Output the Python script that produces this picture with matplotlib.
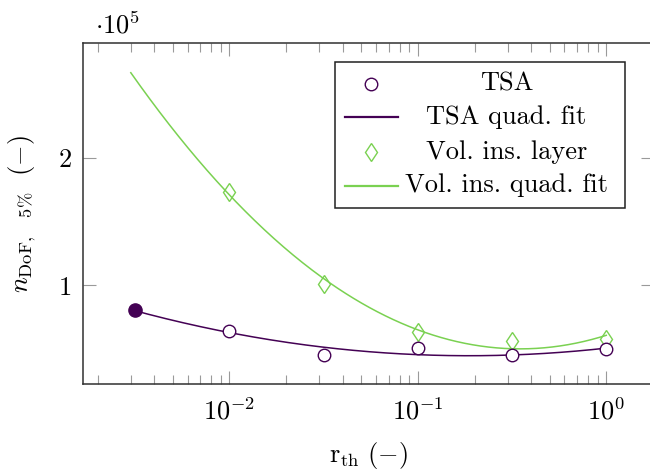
import numpy as np
import matplotlib
matplotlib.use("Agg")
import matplotlib.pyplot as plt
from matplotlib.lines import Line2D
from matplotlib.patches import Rectangle
from matplotlib.ticker import FixedLocator, FuncFormatter, LogLocator, NullFormatter

plt.rcParams["font.family"] = "serif"
plt.rcParams["font.serif"] = ["cmr10", "DejaVu Serif"]
plt.rcParams["mathtext.fontset"] = "cm"
plt.rcParams["axes.formatter.use_mathtext"] = True

# data (r_th, n_DoF at 5 %)
r_th = [10**-2.5, 10**-2, 10**-1.5, 10**-1, 10**-0.5, 1.0]
n_tsa = [80600, 64200, 45400, 50900, 45400, 49800]
r_vol = [10**-2, 10**-1.5, 10**-1, 10**-0.5, 1.0]
n_vol = [173300, 101000, 63600, 56600, 57900]
fit_domain = (0.003, 1.0)

labels = ["TSA", "TSA quad. fit", "Vol. ins. layer", "Vol. ins. quad. fit"]
PURPLE = "#440154"
GREEN = "#7ad151"
FS = 19

W, H = 650, 470


def fig_xy(px, py):
    return px / W, 1 - py / H


def quad_fit(x, y, x_eval):
    # quadratic fit in log10(x), as the legend says
    coef = np.polyfit(np.log10(x), y, 2)
    return np.polyval(coef, np.log10(x_eval))


fig = plt.figure(figsize=(W / 100, H / 100), dpi=100)
l, b = fig_xy(83.3, 384)
r, t = fig_xy(653.8, 43.3)
ax = fig.add_axes([l, b, r - l, t - b])

x_fit = np.geomspace(*fit_domain, 300)
ax.plot(x_fit, quad_fit(r_vol, n_vol, x_fit), color=GREEN, lw=1.1, zorder=2)
ax.plot(x_fit, quad_fit(r_th, n_tsa, x_fit), color=PURPLE, lw=1.1, zorder=2)

ax.plot(r_vol, n_vol, ls="none", marker="d", ms=9.5, mfc="none",
        mec=GREEN, mew=1.0, zorder=3)
ax.plot(r_th[1:], n_tsa[1:], ls="none", marker="o", ms=9, mfc="white",
        mec=PURPLE, mew=1.0, zorder=3)
ax.plot(r_th[:1], n_tsa[:1], ls="none", marker="o", ms=9.5, mfc=PURPLE,
        mec=PURPLE, mew=1.0, zorder=3)

ax.set_xscale("log")
ax.set_xlim(10**-2.775, 10**0.2523)
ax.set_ylim(0.2265e5, 2.8966e5)

ax.xaxis.set_major_locator(FixedLocator([1e-2, 1e-1, 1e0]))
ax.xaxis.set_major_formatter(FuncFormatter(lambda v, _: r"$10^{%d}$" % round(np.log10(v))))
ax.xaxis.set_minor_locator(LogLocator(base=10, subs=np.arange(2, 10), numticks=20))
ax.xaxis.set_minor_formatter(NullFormatter())
ax.yaxis.set_major_locator(FixedLocator([1e5, 2e5]))
ax.yaxis.set_major_formatter(FuncFormatter(lambda v, _: "%d" % round(v / 1e5)))

ax.tick_params(which="both", direction="in", top=True, right=True,
               color="#9a9a9a", width=0.8, labelsize=FS)
ax.tick_params(which="major", length=9.4)
ax.tick_params(which="minor", length=6.5)
ax.tick_params(axis="x", pad=10)
ax.tick_params(axis="y", pad=8)
for s in ax.spines.values():
    s.set_linewidth(1.1)
    s.set_color("#303030")

ax.set_xlabel(r"$\mathrm{r}_{\mathrm{th}}\ (-)$", fontsize=FS)
ax.set_ylabel(r"$n_{\mathrm{DoF},\quad 5\%}\ \ (-)$", fontsize=FS)
ax.xaxis.set_label_coords(0.5, -0.165)
ax.yaxis.set_label_coords(-0.080, 0.5)

fig.text(*fig_xy(95, 33), r"$\cdot 10^{5}$", fontsize=FS, ha="left", va="baseline")

# legend drawn by hand so the labels sit centred like pgfplots
x0, y0 = fig_xy(335, 208.3)
x1, y1 = fig_xy(625, 62.3)
fig.add_artist(Rectangle((x0, y0), x1 - x0, y1 - y0, transform=fig.transFigure,
                         fc="white", ec="#202020", lw=1.1, zorder=5))
rows_y = [84.3, 117.3, 152.3, 185.7]
handles = [
    dict(marker="o", ms=9, mfc="white", mec=PURPLE, mew=1.0, ls="none"),
    dict(color=PURPLE, lw=1.6),
    dict(marker="d", ms=9.5, mfc="white", mec=GREEN, mew=1.0, ls="none"),
    dict(color=GREEN, lw=1.6),
]
for ry, lab, h in zip(rows_y, labels, handles):
    if "marker" in h:
        hx, hy = fig_xy(370.7, ry)
        fig.add_artist(Line2D([hx], [hy], transform=fig.transFigure, zorder=6, **h))
    else:
        ax_, hy = fig_xy(345, ry)
        bx_, _ = fig_xy(398, ry)
        fig.add_artist(Line2D([ax_, bx_], [hy, hy], transform=fig.transFigure, zorder=6, **h))
    tx, ty = fig_xy(506.5, ry + 6.3)
    fig.text(tx, ty, lab, fontsize=FS, ha="center", va="baseline", zorder=6)

fig.savefig("out.png", dpi=100)
